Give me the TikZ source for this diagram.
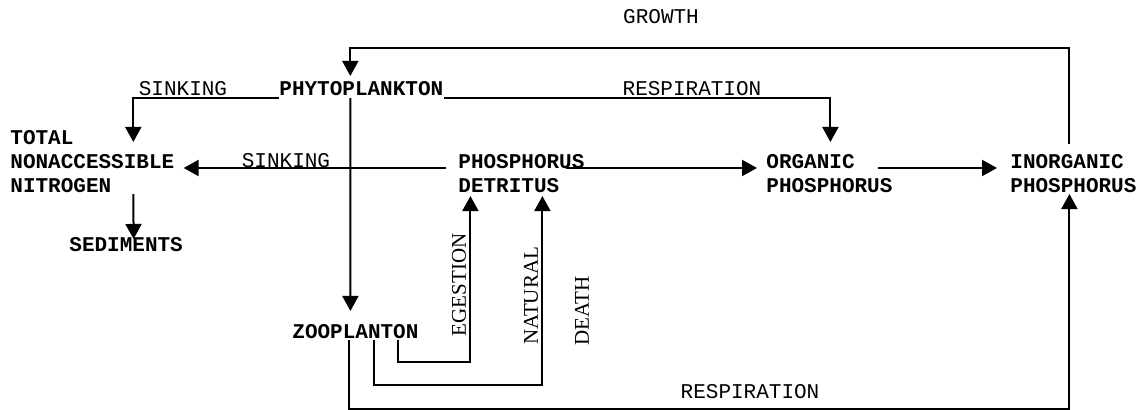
\documentclass[tikz,border=0pt]{standalone}
\usepackage{fontspec}
\setmainfont{Liberation Serif}
\setmonofont{Liberation Mono}
\usetikzlibrary{arrows.meta}

\tikzset{
  pool/.style={font=\fontsize{10.5}{12}\selectfont\ttfamily\bfseries,
    inner sep=0pt, anchor=west, align=left},
  flow/.style={font=\fontsize{10.5}{12}\selectfont\ttfamily, inner sep=0pt},
  vflow/.style={font=\fontsize{10.5}{12}\selectfont\rmfamily, inner sep=0pt, rotate=90},
  arr/.style={-{Triangle[length=7.5pt,width=8pt]}, line width=1pt},
}

\begin{document}
\begin{tikzpicture}[x=0.5pt,y=-0.5pt]
\useasboundingbox (0,0) rectangle (1139,410);

\node[pool] (phyto) at (279,89) {PHYTOPLANKTON};
\node[pool] (tnn) at (10,162) {TOTAL\\NONACCESSIBLE\\NITROGEN};
\node[pool] (sed) at (69,245) {SEDIMENTS};
\node[pool] (detritus) at (458,174) {PHOSPHORUS\\DETRITUS};
\node[pool] (organic) at (766,174) {ORGANIC\\PHOSPHORUS};
\node[pool] (inorganic) at (1010,174) {INORGANIC\\PHOSPHORUS};
\node[pool] (zoo) at (292,332) {ZOOPLANTON};

\node[flow] (growth) at (661,17) {GROWTH};
\node[flow] (sink1) at (183,89) {SINKING};
\node[flow] (resp1) at (692,89) {RESPIRATION};
\node[flow] (sink2) at (286,161) {SINKING};
\node[flow] (resp2) at (750,392) {RESPIRATION};
\node[vflow] (egest) at (459,285) {EGESTION};
\node[vflow] (natural) at (531,296) {NATURAL};
\node[vflow] (death) at (582,311) {DEATH};

\draw[arr] ([shift={(-4,-10.5)}]inorganic.north) -- ++(0,-96) -| ([shift={(-11,-5.5)}]phyto.north);
\draw[arr] ([shift={(0,1.5)}]phyto.south west) -| ([shift={(41,11.5)}]tnn.north);
\draw[arr] ([shift={(0,1.5)}]phyto.south east) -| ([shift={(1,-12.5)}]organic.north);
\draw[arr] ([shift={(-11,1.5)}]phyto.south) -- ([shift={(-5,-13.5)}]zoo.north);
\draw[arr] ([shift={(-12,-6)}]detritus.west) -- ([shift={(9,6)}]tnn.east);
\draw[arr] ([shift={(-19,-6)}]detritus.east) -- ([shift={(-9,-6)}]organic.west);
\draw[arr] ([shift={(-15,-6)}]organic.east) -- ([shift={(-13,-6)}]inorganic.west);
\draw[arr] ([shift={(41,0.5)}]tnn.south) -- ([shift={(7.5,1.5)}]sed.north);
\draw[arr] ([shift={(43,0)}]zoo.south) -- ++(0,22.5) -| ([shift={(-51,2.5)}]detritus.south);
\draw[arr] ([shift={(19,0)}]zoo.south) -- ++(0,45.5) -| ([shift={(21,2.5)}]detritus.south);
\draw[arr] ([shift={(-6,0)}]zoo.south) -- ++(0,69.5) -| ([shift={(-4,0.5)}]inorganic.south);
\end{tikzpicture}
\end{document}
